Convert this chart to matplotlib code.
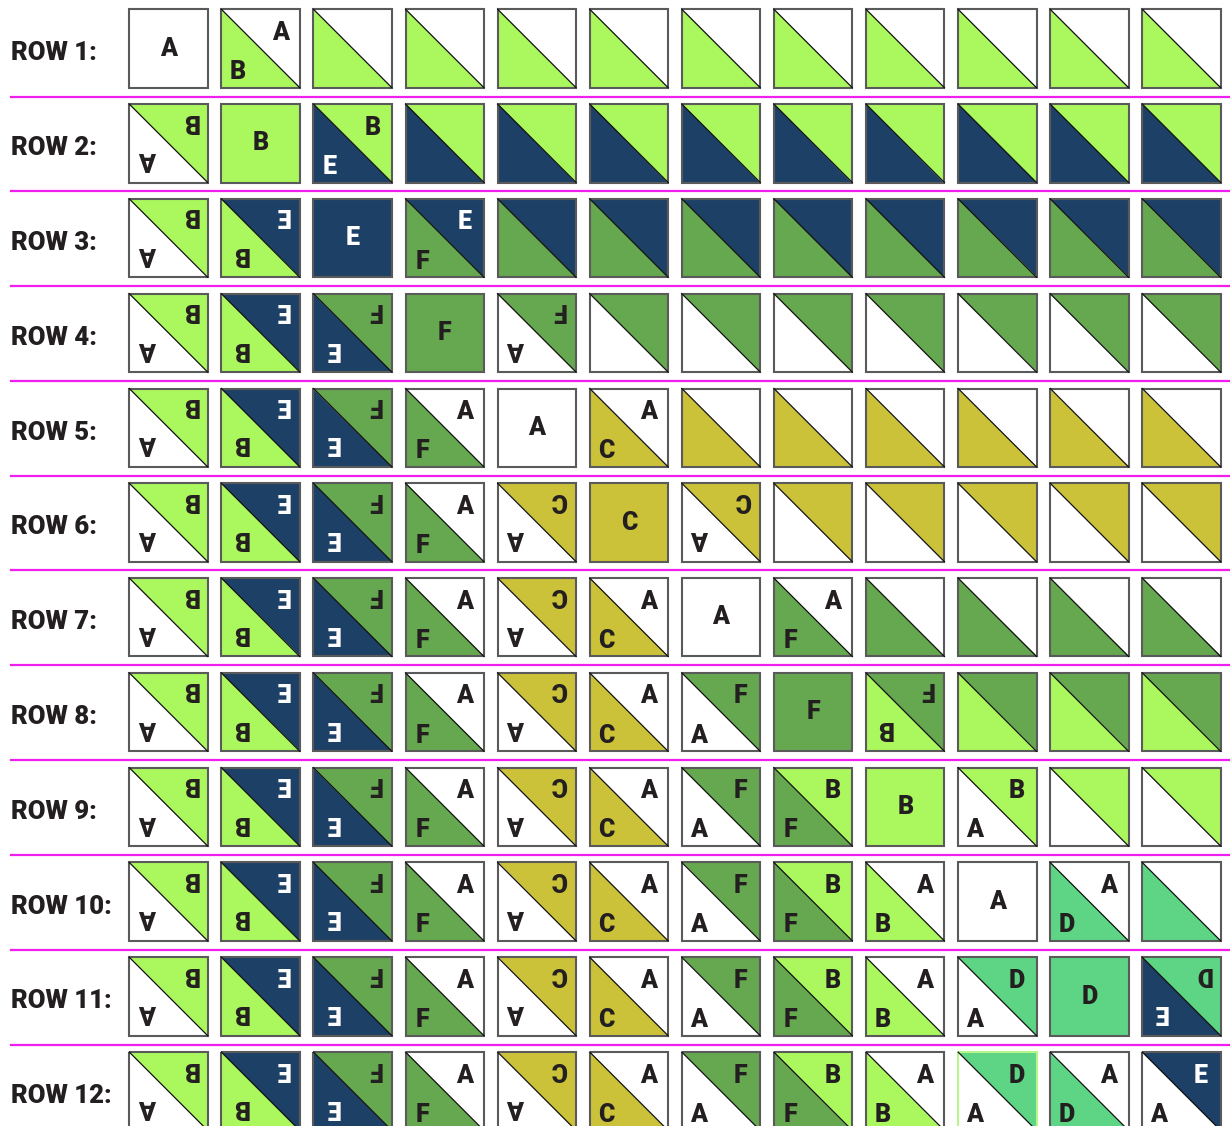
import matplotlib
matplotlib.use('Agg')
from matplotlib import pyplot as plt
from matplotlib.patches import Polygon, Rectangle

# fabric colours by letter
colours = {'A': '#ffffff', 'B': '#aaf75e', 'C': '#cbc23a',
           'D': '#5dd584', 'E': '#1d4166', 'F': '#66a84f'}
text_colours = {'E': '#ffffff'}

# one token per block: "X" solid, "XY" upper-right X / lower-left Y (labelled),
# lower case = no labels, leading "~" = labels turned upside down
row_labels = ['ROW %d:' % i for i in range(1, 13)]
row1 = ['A', 'AB'] + ['ab'] * 10
row2 = ['~BA', 'B', 'BE'] + ['be'] * 9
row3 = ['~BA', '~EB', 'E', 'EF'] + ['ef'] * 8
row4 = ['~BA', '~EB', '~FE', 'F', '~FA'] + ['fa'] * 7
row5 = ['~BA', '~EB', '~FE', 'AF', 'A', 'AC'] + ['ac'] * 6
row6 = ['~BA', '~EB', '~FE', 'AF', '~CA', 'C', '~CA'] + ['ca'] * 5
row7 = ['~BA', '~EB', '~FE', 'AF', '~CA', 'AC', 'A', 'AF'] + ['af'] * 4
row8 = ['~BA', '~EB', '~FE', 'AF', '~CA', 'AC', 'FA', 'F', '~FB'] + ['fb'] * 3
row9 = ['~BA', '~EB', '~FE', 'AF', '~CA', 'AC', 'FA', 'BF', 'B', 'BA'] + ['ba'] * 2
row10 = ['~BA', '~EB', '~FE', 'AF', '~CA', 'AC', 'FA', 'BF', 'AB', 'A', 'AD', 'ad']
row11 = ['~BA', '~EB', '~FE', 'AF', '~CA', 'AC', 'FA', 'BF', 'AB', 'DA', 'D', '~DE']
row12 = ['~BA', '~EB', '~FE', 'AF', '~CA', 'AC', 'FA', 'BF', 'AB', 'DA', 'AD', 'EA']
rows = [row1, row2, row3, row4, row5, row6, row7, row8, row9, row10, row11, row12]

W, H = 1230, 1126
x0, y0 = 129.3, 9.3      # top-left of first block
dx, dy = 92.09, 94.8     # pitch
s = 78.4                 # block size

fig = plt.figure(figsize=(W / 100, H / 100), dpi=100)
ax = fig.add_axes([0, 0, 1, 1])
ax.set_xlim(0, W)
ax.set_ylim(H, 0)
ax.axis('off')

fnt = dict(family='Roboto', fontweight='black', fontsize=18, ha='center', va='center')


def label(x, y, ch, flip):
    ax.text(x, y, ch, color=text_colours.get(ch, '#231f20'),
            rotation=180 if flip else 0, **fnt)


for r, row in enumerate(rows):
    top = y0 + r * dy
    ax.text(11, top + s / 2 + 5, row_labels[r], family='Roboto', fontweight='black',
            fontsize=18.5, color='#231f20', ha='left', va='center')
    if r > 0:
        ax.plot([11, W], [top - 7.6, top - 7.6], color='#f01ef0', lw=1.6)
    for c, tok in enumerate(row):
        left = x0 + c * dx
        flip = tok.startswith('~')
        tok = tok.lstrip('~')
        edge = '#5a5a5a'
        if r == 11 and c == 9:
            edge = '#b8f58a'
        if len(tok) == 1:
            ax.add_patch(Rectangle((left, top), s, s, facecolor=colours[tok],
                                   edgecolor=edge, lw=1.5))
            label(left + s / 2, top + s / 2, tok, False)
            continue
        up, lo = tok[0].upper(), tok[1].upper()
        ax.add_patch(Polygon([(left, top), (left + s, top), (left + s, top + s)],
                             closed=True, facecolor=colours[up], edgecolor='none'))
        ax.add_patch(Polygon([(left, top), (left, top + s), (left + s, top + s)],
                             closed=True, facecolor=colours[lo], edgecolor='none'))
        ax.plot([left, left + s], [top, top + s], color='#111111', lw=0.9)
        ax.add_patch(Rectangle((left, top), s, s, facecolor='none',
                               edgecolor=edge, lw=1.5))
        if tok.isupper():
            if flip:
                label(left + 0.78 * s, top + 0.21 * s, up, True)
                label(left + 0.24 * s, top + 0.70 * s, lo, True)
            else:
                label(left + 0.75 * s, top + 0.30 * s, up, False)
                label(left + 0.21 * s, top + 0.80 * s, lo, False)

plt.savefig('out.png', dpi=100, facecolor='white')
